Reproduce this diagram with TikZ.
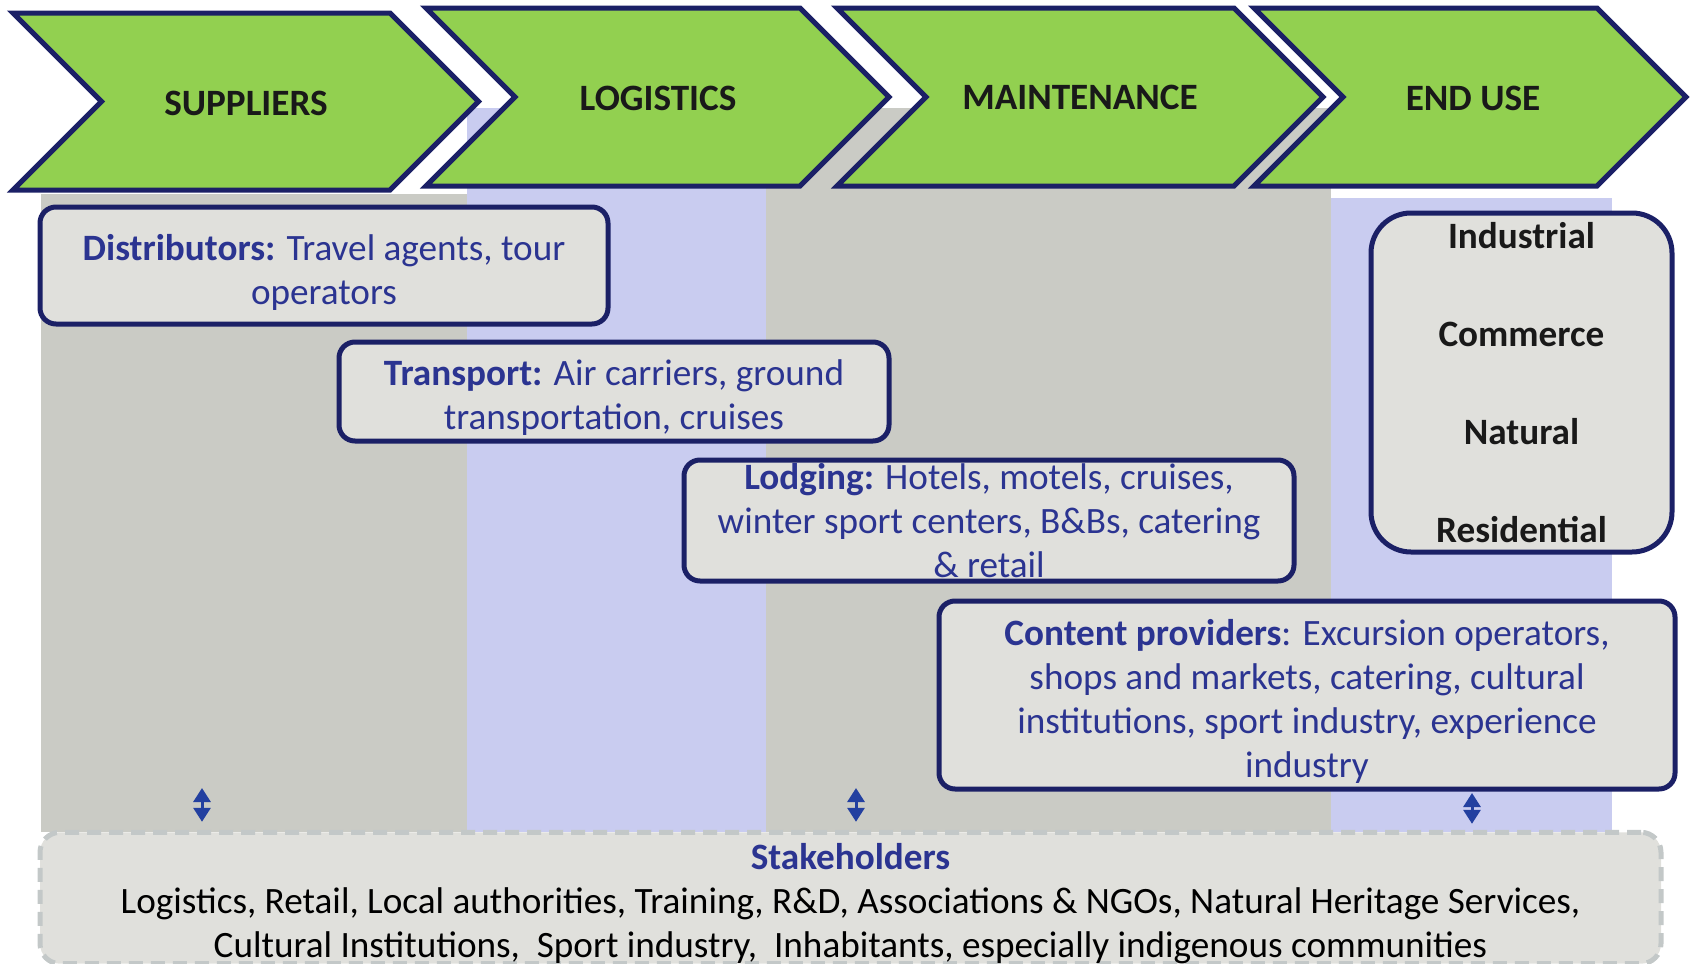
\documentclass[tikz,border=0pt]{standalone}
\usepackage{fontspec}
\setmainfont{Carlito}
\usepackage{xcolor}
\usepackage{tikz}
\usetikzlibrary{arrows.meta,calc}
\newcommand{\vcfont}{\fontsize{18.6}{22}\selectfont}
\definecolor{chevgreen}{RGB}{146,208,80}
\definecolor{navy}{RGB}{27,32,102}
\definecolor{txtblue}{RGB}{43,52,145}
\definecolor{colgray}{RGB}{202,203,197}
\definecolor{colblue}{RGB}{201,204,240}
\definecolor{cardfill}{RGB}{224,224,220}
\definecolor{dashgray}{RGB}{195,200,200}
\definecolor{arrblue}{RGB}{35,64,160}
\tikzset{
  chev/.style     = {draw=navy, fill=chevgreen, line width=2.5pt, line join=miter},
  chevlbl/.style  = {font=\vcfont\bfseries, text=black!90, inner sep=0pt},
  card/.style     = {draw=navy, fill=cardfill, line width=2.5pt, rounded corners=8pt,
                     align=center, text=txtblue, inner sep=0pt},
  endbox/.style   = {card, rounded corners=20pt, text=black!90, font=\vcfont\bfseries},
  stake/.style    = {draw=dashgray, fill=cardfill, line width=2.5pt,
                     dash pattern=on 7pt off 4pt, rounded corners=10pt,
                     align=center, inner sep=0pt},
  updown/.style   = {{Triangle[width=8.5pt,length=7pt]}-{Triangle[width=8.5pt,length=7pt]},
                     draw=arrblue, line width=1.5pt},
}

\begin{document}
\begin{tikzpicture}[x=0.5pt, y=-0.5pt, font=\vcfont]
\useasboundingbox (0,0) rectangle (1693,964);

% background bands
\fill[colgray] (41,194)   rectangle (467,832);
\fill[colblue] (467,108)  rectangle (766,832);
\fill[colgray] (766,108)  rectangle (1331,832);
\fill[colblue] (1331,198) rectangle (1612,832);

% value chain
\draw[chev] (13,13) -- (390,13) -- (478.5,101.5) -- (390,190) -- (13,190) -- (101.5,101.5) -- cycle;
\draw[chev] (426,8) -- (800,8) -- (889,97) -- (800,186) -- (426,186) -- (515,97) -- cycle;
\draw[chev] (837,8) -- (1234,8) -- (1323,97) -- (1234,186) -- (837,186) -- (926,97) -- cycle;
\draw[chev] (1254,8) -- (1597,8) -- (1686,97) -- (1597,186) -- (1254,186) -- (1343,97) -- cycle;

\node[chevlbl] (sup) at (246,103)  {SUPPLIERS};
\node[chevlbl] (log) at (658,98)   {LOGISTICS};
\node[chevlbl] (mnt) at (1080,97)  {MAINTENANCE};
\node[chevlbl] (end) at (1473,98)  {END USE};

\node[card, minimum width=284pt, minimum height=58.5pt] (dist) at (324,265.5)
     {\rule{0pt}{19.5pt}\textbf{Distributors:} Travel agents, tour\\operators};

\node[card, minimum width=275pt, minimum height=49.5pt] (trans) at (614,391.5)
     {\rule{0pt}{19pt}\textbf{Transport:} Air carriers, ground\\transportation, cruises};

\node[card, minimum width=305pt, minimum height=60.5pt] (lodg) at (989,520.5)
     {\textbf{Lodging:} Hotels, motels, cruises,\\winter sport centers, B\&Bs, catering\\\& retail};

\node[card, minimum width=368pt, minimum height=94pt] (cont) at (1307,695)
     {\rule{0pt}{19pt}\textbf{Content providers}: Excursion operators,\\shops and markets, catering, cultural\\
      institutions, sport industry, experience\\industry};

\node[endbox, minimum width=150.5pt, minimum height=169.5pt] (enduse) at (1521.5,382.5)
     {Industrial\\[27pt]Commerce\\[27pt]Natural\\[27pt]Residential};

\node[stake, minimum width=810.5pt, minimum height=64pt] (stake) at (850.5,898)
     {\rule{0pt}{18.5pt}\textcolor{txtblue}{\textbf{Stakeholders}}\\
      Logistics, Retail, Local authorities, Training, R\&D, Associations \& NGOs, Natural Heritage Services,\\
      Cultural Institutions,~ Sport industry,~ Inhabitants, especially indigenous communities};

\coordinate (a1) at (202,788);
\coordinate (a2) at (856,788);
\coordinate (a3) at (1472,789);
\foreach \a in {a1,a2}{\draw[updown, shorten >=4pt] (\a) -- (\a |- stake.north);}
\draw[updown, shorten <=2pt, shorten >=3pt] (a3) -- (a3 |- stake.north);
\end{tikzpicture}
\end{document}
